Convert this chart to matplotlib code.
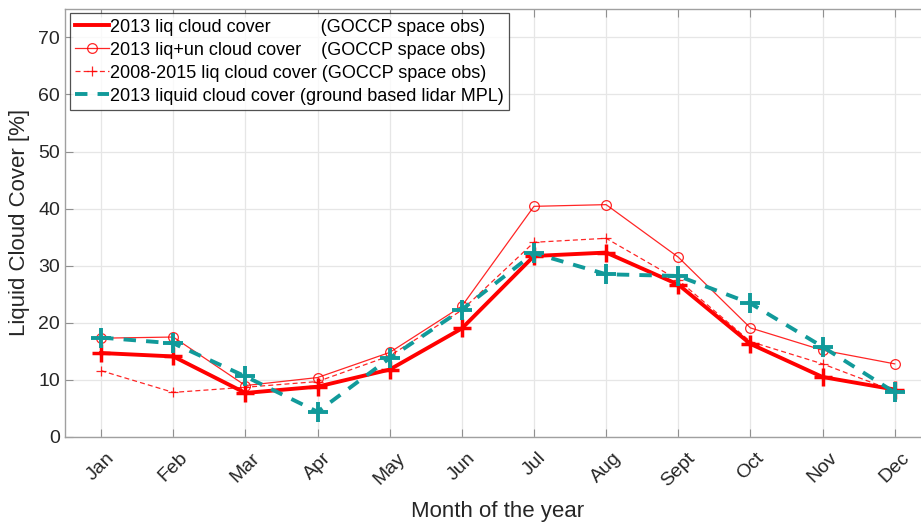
import matplotlib.pyplot as plt

plt.rcParams['font.family'] = ['Liberation Sans', 'DejaVu Sans']

months = ['Jan', 'Feb', 'Mar', 'Apr', 'May', 'Jun', 'Jul', 'Aug', 'Sept', 'Oct', 'Nov', 'Dec']
liq_2013 = [14.7, 14.1, 7.7, 8.8, 11.8, 19.0, 31.7, 32.3, 26.7, 16.3, 10.5, 8.3]
liq_un_2013 = [17.3, 17.5, 9.0, 10.4, 14.8, 22.9, 40.4, 40.7, 31.5, 19.1, 15.2, 12.8]
liq_2008_2015 = [11.6, 7.8, 8.7, 9.7, 14.2, 22.2, 34.1, 34.8, 27.5, 16.7, 12.8, 8.0]
lidar_2013 = [17.4, 16.4, 10.6, 4.4, 13.8, 22.3, 32.2, 28.5, 28.2, 23.4, 15.8, 7.8]

x = list(range(1, 13))
teal = '#119a9a'

fig = plt.figure(figsize=(9.21, 5.22), dpi=100)
ax = fig.add_axes([0.0706, 0.163, 0.940, 0.820])

# lignes (légende) + marqueurs séparés comme dans la figure d'origine
ax.plot(x, liq_2013, color='red', lw=2.8,
        label='2013 liq cloud cover          (GOCCP space obs)')
ax.plot(x, liq_2013, ls='none', marker='+', ms=13, mew=2.5, color='red')
ax.plot(x, liq_un_2013, color='red', lw=0.9, alpha=0.85, marker='o', ms=7,
        mfc='none', mew=0.9,
        label='2013 liq+un cloud cover    (GOCCP space obs)')
ax.plot(x, liq_2008_2015, color='red', lw=0.9, alpha=0.85, ls=(0, (4, 2.5)),
        marker='+', ms=7, mew=0.9,
        label='2008-2015 liq cloud cover (GOCCP space obs)')
ax.plot(x, lidar_2013, color=teal, lw=2.8, ls=(0, (3.2, 2.6)),
        label='2013 liquid cloud cover (ground based lidar MPL)')
ax.plot(x, lidar_2013, ls='none', marker='+', ms=15, mew=2.8, color=teal)

ax.set_xlim(0.5, 12.5)
ax.set_ylim(0, 75)
ax.set_yticks(range(0, 80, 10))
ax.set_xticks(x)
ax.set_xticklabels(months, rotation=45, ha='center')
ax.tick_params(labelsize=14, colors='#262626', direction='in', length=6,
               top=True, right=True)
ax.tick_params(axis='x', pad=9)
ax.tick_params(color='#909090')
ax.grid(True, color='#e6e6e6', lw=0.9)
for s in ax.spines.values():
    s.set_color('#a0a0a0')
    s.set_linewidth(1.0)

ax.set_xlabel('Month of the year', fontsize=16, color='#262626', labelpad=8)
ax.set_ylabel('Liquid Cloud Cover [%]', fontsize=16, color='#262626', labelpad=6)

leg = ax.legend(loc='upper left', fontsize=13, frameon=True, fancybox=False,
                borderaxespad=0.25, handlelength=1.9, handletextpad=0.05,
                labelspacing=0.33, borderpad=0.3)
leg.get_frame().set_edgecolor('#262626')
leg.get_frame().set_linewidth(0.9)

fig.savefig('out.png', dpi=100)
